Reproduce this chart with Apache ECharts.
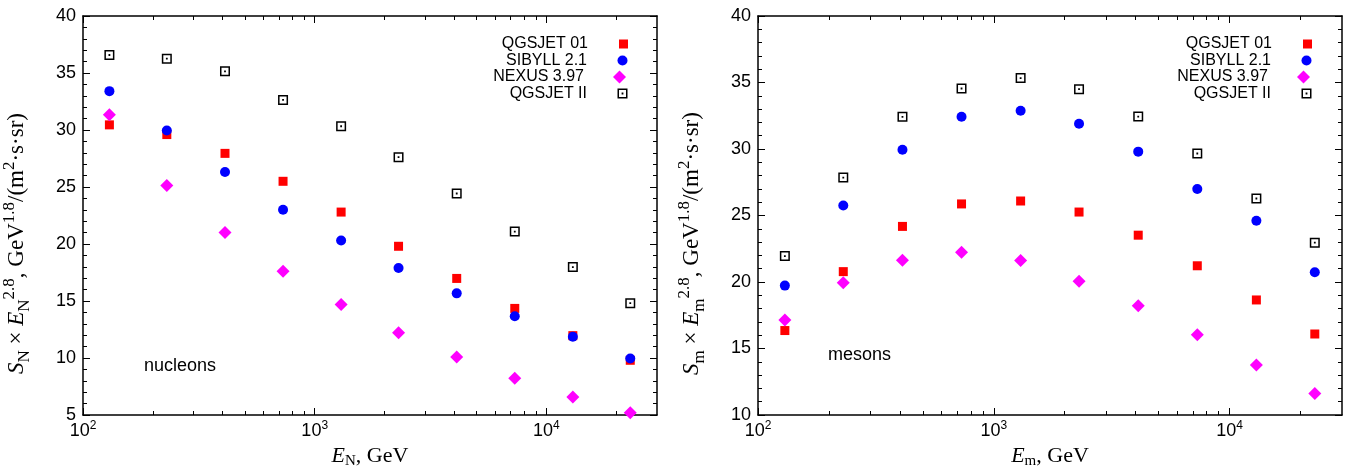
<!DOCTYPE html>
<html>
<head>
<meta charset="utf-8">
<script src="https://cdn.jsdelivr.net/npm/echarts@6/dist/echarts.min.js"></script>
<style>
  html, body { margin: 0; padding: 0; background: #fff; }
  #chart { width: 1351px; height: 474px; }
</style>
</head>
<body>
<div id="chart"></div>
<script>
// energy bins, GeV (same for both panels)
var energies = [130, 230, 410, 730, 1300, 2300, 4100, 7300, 13000, 23000];

// nucleons
var nucQgsjet01 = [30.45, 29.6, 27.95, 25.5, 22.8, 19.8, 16.98, 14.35, 11.96, 9.8];
var nucSibyll = [33.41, 29.96, 26.31, 23.0, 20.3, 17.89, 15.67, 13.67, 11.87, 9.96];
var nucNexus = [31.33, 25.14, 21.0, 17.6, 14.7, 12.22, 10.08, 8.22, 6.57, 5.2];
var nucQgsjet2 = [36.58, 36.26, 35.15, 32.64, 30.33, 27.62, 24.43, 21.09, 17.98, 14.81];

// mesons
var mesQgsjet01 = [16.35, 20.78, 24.18, 25.87, 26.09, 25.26, 23.52, 21.22, 18.65, 16.09];
var mesSibyll = [19.73, 25.75, 29.95, 32.42, 32.88, 31.9, 29.8, 26.99, 24.6, 20.73];
var mesNexus = [17.15, 19.95, 21.64, 22.23, 21.61, 20.05, 18.21, 16.04, 13.76, 11.61];
var mesQgsjet2 = [21.95, 27.85, 32.42, 34.55, 35.33, 34.5, 32.44, 29.66, 26.28, 22.96];

var seriesNames = ['QGSJET 01', 'SIBYLL 2.1', 'NEXUS 3.97', 'QGSJET II'];

// log axis ticks
var xMajor = [100, 1000, 10000];
var xMinor = [200, 300, 400, 500, 600, 700, 800, 900,
              2000, 3000, 4000, 5000, 6000, 7000, 8000, 9000, 20000];
var xMin = 100, xMax = 30000;

var sans = 'Liberation Sans';
var serif = 'Liberation Serif';
var openSquare = 'path://M0,0H10V10H0Z M1.5,1.5V8.5H8.5V1.5Z M4.1,4.1H5.9V5.9H4.1Z';

// marker look per series: symbol, size, colour
var markers = [
  { symbol: 'rect', size: 9, color: '#ff0000' },
  { symbol: 'circle', size: 10, color: '#0000ff' },
  { symbol: 'diamond', size: 13, color: '#ff00ff' },
  { symbol: openSquare, size: 10, color: '#000' }
];

var lg = function (v) { return Math.log10(v); };
var pts = function (arr) {
  return energies.map(function (e, i) { return [lg(e), arr[i]]; });
};

var chart = echarts.init(document.getElementById('chart'));

function xAxisPart(grid, pos, vals, len, labels, line, name) {
  return {
    type: 'value', gridIndex: grid, position: pos,
    min: lg(xMin), max: lg(xMax),
    axisLine: { show: line, onZero: false, lineStyle: { color: '#000', width: 1.5 } },
    axisTick: { show: true, inside: true, length: len, customValues: vals.map(lg),
                lineStyle: { color: '#000', width: 1 } },
    axisLabel: {
      show: labels, customValues: xMajor.map(lg), margin: 5,
      formatter: function (v) { return '{b|10}{s|' + Math.round(v) + '}'; },
      rich: {
        b: { fontFamily: sans, fontSize: 18, color: '#000', lineHeight: 22 },
        s: { fontFamily: sans, fontSize: 12, color: '#000', verticalAlign: 'top' }
      }
    },
    splitLine: { show: false },
    name: name || '', nameLocation: 'middle', nameGap: 28,
    nameTextStyle: {
      rich: {
        i: { fontFamily: serif, fontStyle: 'italic', fontSize: 22, color: '#000', lineHeight: 26 },
        sub: { fontFamily: serif, fontSize: 15, color: '#000', verticalAlign: 'bottom' },
        r: { fontFamily: serif, fontSize: 22, color: '#000', lineHeight: 26 }
      }
    }
  };
}

function yAxisPart(grid, pos, min, labels, name) {
  return {
    type: 'value', gridIndex: grid, position: pos,
    min: min, max: 40, interval: 5,
    axisLine: { show: true, lineStyle: { color: '#000', width: 1.5 } },
    axisTick: { show: true, inside: true, length: 7, lineStyle: { color: '#000', width: 1 } },
    minorTick: { show: true, splitNumber: 5, length: 4, lineStyle: { color: '#000', width: 1 } },
    axisLabel: { show: labels, fontFamily: sans, fontSize: 18, color: '#000', margin: 7 },
    splitLine: { show: false },
    name: name || '', nameLocation: 'middle', nameGap: 50, nameRotate: 90,
    nameTextStyle: {
      padding: [0, 56, 0, 0],
      rich: {
        i: { fontFamily: serif, fontStyle: 'italic', fontSize: 23, color: '#000', lineHeight: 32 },
        r: { fontFamily: serif, fontSize: 23, color: '#000', lineHeight: 32 },
        sub: { fontFamily: serif, fontSize: 17, color: '#000', verticalAlign: 'bottom' },
        sup: { fontFamily: serif, fontSize: 17, color: '#000', verticalAlign: 'top' }
      }
    }
  };
}

function yTitle(s) {
  return '{i|S}{sub|' + s + '}{r| × }{i|E}{sub|' + s + '}{sup|2.8}{r|, GeV}{sup|1.8}{r|/(m}{sup|2}{r|·s·sr)}';
}

function scatterSet(grid, q1, sib, nex, q2) {
  var xi = grid * 4, yi = grid * 2;
  return [q1, sib, nex, q2].map(function (arr, k) {
    return {
      type: 'scatter', xAxisIndex: xi, yAxisIndex: yi, silent: true,
      name: seriesNames[k], data: pts(arr),
      symbol: markers[k].symbol, symbolSize: markers[k].size,
      itemStyle: { color: markers[k].color, opacity: 1 }
    };
  });
}

// one legend per entry so each icon keeps its marker size
var legendRowY = [44, 60.5, 77, 93.5];
function legendsAt(right) {
  return seriesNames.map(function (n, k) {
    return {
      data: [n], orient: 'vertical', align: 'right',
      right: right - (11 - markers[k].size) / 2, top: legendRowY[k] - 8,
      itemWidth: markers[k].size, itemHeight: markers[k].size,
      selectedMode: false, padding: 0,
      textStyle: { fontFamily: sans, fontSize: 16, color: '#000', lineHeight: 16,
                   padding: [0, 25 + (11 - markers[k].size) / 2, 0, 0] }
    };
  });
}

chart.setOption({
  animation: false,
  backgroundColor: '#fff',
  grid: [
    { left: 74, top: 16, width: 583, height: 409 },
    { left: 758, top: 16, width: 584, height: 409 }
  ],
  legend: [].concat(legendsAt(724), legendsAt(40)),
  xAxis: [
    xAxisPart(0, 'bottom', xMajor, 7, true, true, '{i|E}{sub|N}{r|, GeV}'),
    xAxisPart(0, 'bottom', xMinor, 4, false, false),
    xAxisPart(0, 'top', xMajor, 7, false, true),
    xAxisPart(0, 'top', xMinor, 4, false, false),
    xAxisPart(1, 'bottom', xMajor, 7, true, true, '{i|E}{sub|m}{r|, GeV}'),
    xAxisPart(1, 'bottom', xMinor, 4, false, false),
    xAxisPart(1, 'top', xMajor, 7, false, true),
    xAxisPart(1, 'top', xMinor, 4, false, false)
  ],
  yAxis: [
    yAxisPart(0, 'left', 5, true, yTitle('N')),
    yAxisPart(0, 'right', 5, false),
    yAxisPart(1, 'left', 10, true, yTitle('m')),
    yAxisPart(1, 'right', 10, false)
  ],
  graphic: [
    { type: 'text', left: 144, top: 357, style: { text: 'nucleons', font: '18px "Liberation Sans"', fill: '#000' } },
    { type: 'text', left: 828, top: 346, style: { text: 'mesons', font: '18px "Liberation Sans"', fill: '#000' } }
  ],
  series: [].concat(
    scatterSet(0, nucQgsjet01, nucSibyll, nucNexus, nucQgsjet2),
    scatterSet(1, mesQgsjet01, mesSibyll, mesNexus, mesQgsjet2)
  )
});
</script>
</body>
</html>
